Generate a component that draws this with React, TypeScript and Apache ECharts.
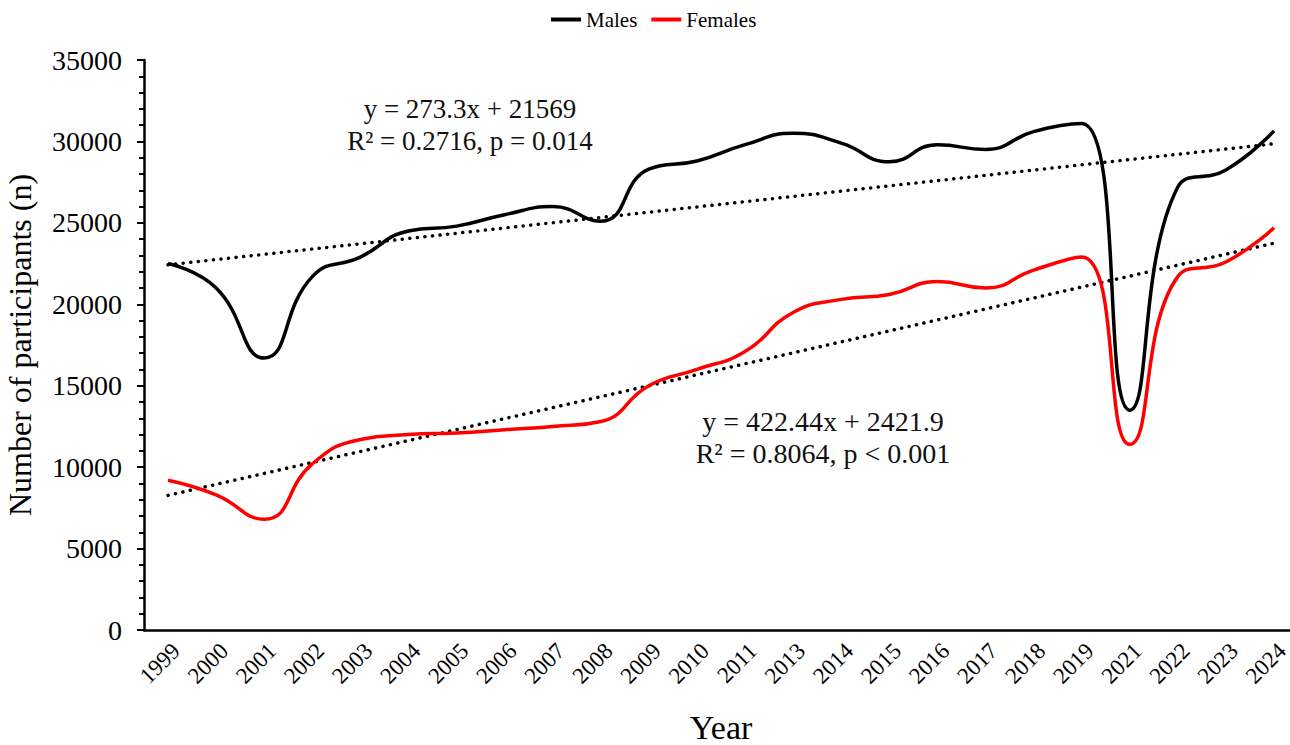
import React, { useEffect, useRef } from "react";
import * as echarts from "echarts";

// Survey years (2012 and 2020 have no records)
const years = [
  "1999", "2000", "2001", "2002", "2003", "2004", "2005", "2006", "2007", "2008",
  "2009", "2010", "2011", "2013", "2014", "2015", "2016", "2017", "2018", "2019",
  "2021", "2022", "2023", "2024",
];

// Number of participants per year
const males = [
  22500, 21000, 16700, 21700, 22900, 24500, 24800, 25500, 26000, 25100,
  28300, 28800, 29800, 30500, 29900, 28750, 29800, 29500, 30600, 31100,
  13500, 27200, 28250, 30650,
];
const females = [
  9200, 8300, 6800, 10200, 11700, 12000, 12100, 12300, 12500, 12800,
  15000, 16000, 17100, 19500, 20300, 20600, 21400, 21000, 22100, 22900,
  11400, 21700, 22600, 24700,
];

const yTicks = { min: 0, max: 35000, interval: 5000 };

const malesFit = ["y = 273.3x + 21569", "R² = 0.2716, p = 0.014"];
const femalesFit = ["y = 422.44x + 2421.9", "R² = 0.8064, p < 0.001"];

// Ordinary least-squares line over the year index (1..n)
function linearTrend(values: number[]): number[] {
  const n = values.length;
  const xs = values.map((_, i) => i + 1);
  const mx = xs.reduce((a, b) => a + b, 0) / n;
  const my = values.reduce((a, b) => a + b, 0) / n;
  let sxy = 0;
  let sxx = 0;
  for (let i = 0; i < n; i++) {
    sxy += (xs[i] - mx) * (values[i] - my);
    sxx += (xs[i] - mx) * (xs[i] - mx);
  }
  const slope = sxy / sxx;
  const intercept = my - slope * mx;
  return xs.map((x) => Math.round(intercept + slope * x));
}

const FONT = "'Liberation Serif', 'Times New Roman', serif";

export default function App() {
  const ref = useRef<HTMLDivElement>(null);

  useEffect(() => {
    if (!ref.current) return;
    const chart = echarts.init(ref.current, undefined, { renderer: "svg" });

    const dotted = {
      color: "#000",
      width: 3.5,
      type: [0.1, 7.5] as any,
      cap: "round" as const,
    };

    const annotation = (lines: string[], cx: number, y: number, size: number) =>
      lines.map((t, i) => ({
        type: "text",
        x: cx,
        y: y + i * 32,
        style: {
          text: t,
          fill: "#111",
          font: `${size}px ${FONT}`,
          textAlign: "center",
          textVerticalAlign: "middle",
        },
      }));

    chart.setOption({
      animation: false,
      backgroundColor: "#fff",
      legend: {
        data: ["Males", "Females"],
        left: 546,
        top: 4,
        icon: "rect",
        itemWidth: 30,
        itemHeight: 4,
        itemGap: 14,
        textStyle: { fontFamily: FONT, fontSize: 21, color: "#000" },
      },
      grid: {
        left: 144,
        right: -8,
        top: 60,
        bottom: 115,
        containLabel: false,
        outerBoundsMode: "none",
      },
      xAxis: {
        type: "category",
        data: years,
        boundaryGap: true,
        name: "Year",
        nameLocation: "middle",
        nameGap: 80,
        nameTextStyle: { fontFamily: FONT, fontSize: 34, color: "#000" },
        axisLine: { lineStyle: { color: "#000", width: 2.5 } },
        axisTick: { alignWithLabel: true, length: 7, lineStyle: { color: "#000", width: 2 } },
        axisLabel: {
          rotate: 45,
          margin: 9,
          interval: 0,
          verticalAlign: "top",
          fontFamily: FONT,
          fontSize: 23,
          color: "#000",
        },
        splitLine: { show: false },
      },
      yAxis: {
        type: "value",
        min: yTicks.min,
        max: yTicks.max,
        interval: yTicks.interval,
        name: "Number of participants (n)",
        nameLocation: "middle",
        nameGap: 108,
        nameTextStyle: { fontFamily: FONT, fontSize: 32, color: "#000" },
        axisLine: { show: true, lineStyle: { color: "#000", width: 2.5 } },
        axisTick: { show: true, length: 7, lineStyle: { color: "#000", width: 2 } },
        minorTick: { show: true, splitNumber: 5, length: 5, lineStyle: { color: "#000", width: 2 } },
        axisLabel: {
          margin: 22,
          fontFamily: FONT,
          fontSize: 28,
          color: "#000",
          formatter: (v: number) => String(v),
        },
        splitLine: { show: false },
      },
      series: [
        {
          name: "Males",
          type: "line",
          data: males,
          smooth: 0.5,
          showSymbol: false,
          lineStyle: { color: "#000", width: 3.5 },
          itemStyle: { color: "#000" },
          z: 3,
        },
        {
          name: "Females",
          type: "line",
          data: females,
          smooth: 0.5,
          showSymbol: false,
          lineStyle: { color: "#ff0000", width: 3.5 },
          itemStyle: { color: "#ff0000" },
          z: 3,
        },
        {
          name: "Males trend",
          type: "line",
          data: linearTrend(males),
          showSymbol: false,
          lineStyle: dotted,
          z: 2,
        },
        {
          name: "Females trend",
          type: "line",
          data: linearTrend(females),
          showSymbol: false,
          lineStyle: dotted,
          z: 2,
        },
      ],
      graphic: [
        ...annotation(malesFit, 470, 109, 27),
        ...annotation(femalesFit, 823, 421, 28),
      ],
    });

    return () => chart.dispose();
  }, []);

  return (
    <div
      ref={ref}
      style={{ position: "fixed", left: 0, top: 0, width: 1290, height: 745, background: "#fff" }}
    />
  );
}
